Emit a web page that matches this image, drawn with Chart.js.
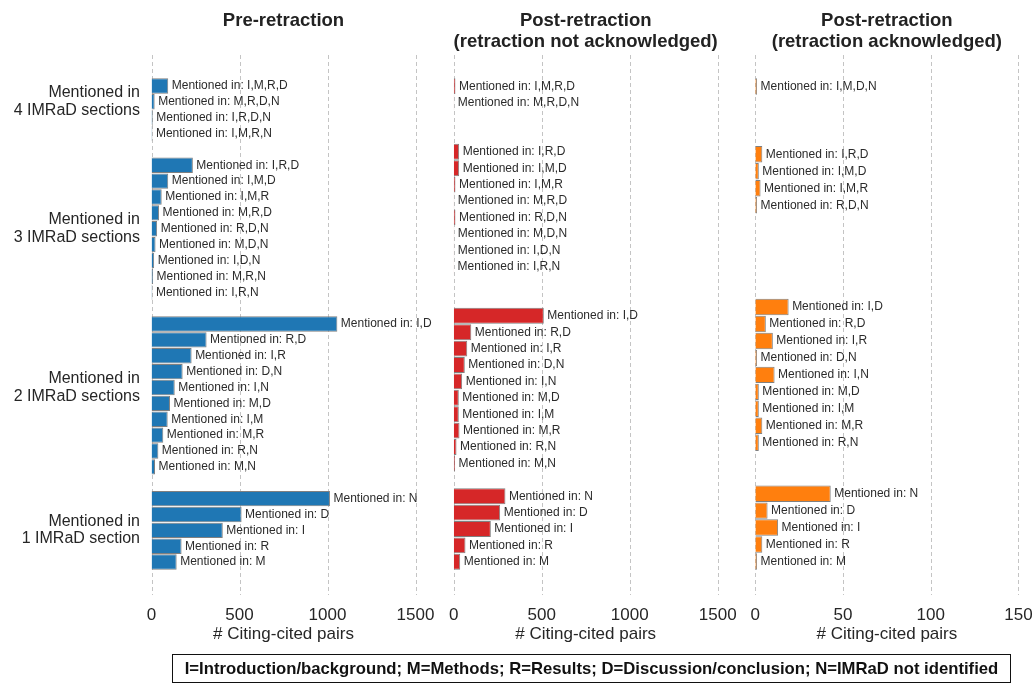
<!DOCTYPE html>
<html><head><meta charset="utf-8">
<script src="https://cdn.jsdelivr.net/npm/chart.js@4.4.0/dist/chart.umd.min.js"></script>
<style>
html,body{margin:0;padding:0;background:#fff;}
body{width:1032px;height:684px;position:relative;overflow:hidden;font-family:"Liberation Sans",Arial,sans-serif;}
canvas{position:absolute;top:0;}
#legend{position:absolute;left:172px;top:654px;width:837px;height:27px;border:1px solid #111;font-weight:bold;font-size:16.7px;line-height:27px;text-align:center;color:#111;white-space:nowrap;}
</style></head><body>
<canvas id="c1" width="450" height="684" style="left:0;width:450px;height:684px"></canvas>
<canvas id="c2" width="320" height="684" style="left:430px;width:320px;height:684px"></canvas>
<canvas id="c3" width="297" height="684" style="left:735px;width:297px;height:684px"></canvas>
<div id="legend">I=Introduction/background; M=Methods; R=Results; D=Discussion/conclusion; N=IMRaD not identified</div>
<script>
// ---- data ('' = empty spacer row between groups) ----
const preCategories = ['I,M,R,D','M,R,D,N','I,R,D,N','I,M,R,N','',
  'I,R,D','I,M,D','I,M,R','M,R,D','R,D,N','M,D,N','I,D,N','M,R,N','I,R,N','',
  'I,D','R,D','I,R','D,N','I,N','M,D','I,M','M,R','R,N','M,N','',
  'N','D','I','R','M'];
const preValues = [95,18,7,5,null,
  235,95,58,43,32,23,15,9,5,null,
  1056,313,228,177,132,105,92,67,39,20,null,
  1014,512,405,171,143];

const notAckCategories = ['I,M,R,D','M,R,D,N','','',
  'I,R,D','I,M,D','I,M,R','M,R,D','R,D,N','M,D,N','I,D,N','I,R,N','','',
  'I,D','R,D','I,R','D,N','I,N','M,D','I,M','M,R','R,N','M,N','',
  'N','D','I','R','M'];
const notAckValues = [10,3,null,null,
  31,31,10,3,10,3,3,2,null,null,
  512,100,77,63,48,29,29,33,16,8,null,
  294,264,211,67,37];

const ackCategories = ['I,M,D,N','','','',
  'I,R,D','I,M,D','I,M,R','R,D,N','','','','','',
  'I,D','R,D','I,R','D,N','I,N','M,D','I,M','M,R','R,N','','',
  'N','D','I','R','M'];
const ackValues = [1,null,null,null,
  4,2,3,1,null,null,null,null,null,
  19,6,10,1,11,2,2,4,2,null,null,
  43,7,13,4,1];

const groupTitles = [['Mentioned in','4 IMRaD sections'],['Mentioned in','3 IMRaD sections'],
  ['Mentioned in','2 IMRaD sections'],['Mentioned in','1 IMRaD section']];
const panelTitles = [['Pre-retraction'],['Post-retraction','(retraction not acknowledged)'],
  ['Post-retraction','(retraction acknowledged)']];
const axisTitle = '# Citing-cited pairs';
const labelPrefix = 'Mentioned in: ';

const FONT = '"Liberation Sans", Arial, sans-serif';
Chart.defaults.font.family = FONT;

const gridPlugin = {
  id: 'dashgrid',
  beforeDatasetsDraw(chart) {
    const {ctx, chartArea: a, scales: {x}} = chart;
    ctx.save();
    ctx.strokeStyle = '#c4c4c4'; ctx.lineWidth = 1; ctx.setLineDash([4, 3]);
    x.ticks.forEach(t => {
      const px = Math.round(x.getPixelForValue(t.value)) + 0.5;
      ctx.beginPath(); ctx.moveTo(px, a.top - 23); ctx.lineTo(px, a.bottom + 25); ctx.stroke();
    });
    ctx.restore();
  }
};

const barLabelPlugin = {
  id: 'barlabels',
  afterDatasetsDraw(chart) {
    const {ctx} = chart;
    const meta = chart.getDatasetMeta(0);
    const data = chart.data.datasets[0].data;
    const cats = chart.data.labels;
    ctx.save();
    ctx.font = '12px ' + FONT; ctx.fillStyle = '#2b2b2b'; ctx.textBaseline = 'middle'; ctx.textAlign = 'left';
    meta.data.forEach((el, i) => {
      if (data[i] == null) return;
      ctx.fillText(labelPrefix + cats[i], el.x + 3.5, el.y);
    });
    ctx.restore();
  }
};

const titlePlugin = {
  id: 'paneltitle',
  afterDraw(chart, args, opts) {
    const {ctx, chartArea: a} = chart;
    ctx.save();
    ctx.font = 'bold 18.5px ' + FONT; ctx.fillStyle = '#222'; ctx.textAlign = 'center'; ctx.textBaseline = 'middle';
    opts.lines.forEach((l, i) => ctx.fillText(l, (a.left + a.right) / 2, 21 + i * 21));
    ctx.restore();
  }
};

const groupLabelPlugin = {
  id: 'grouplabels',
  afterDraw(chart, args, opts) {
    if (!opts.enabled) return;
    const {ctx, scales: {y}} = chart;
    const cats = chart.data.labels;
    const runs = [];
    let start = -1;
    cats.forEach((c, i) => {
      if (c !== '' && start < 0) start = i;
      if ((c === '' || i === cats.length - 1) && start >= 0) {
        const end = c === '' ? i - 1 : i;
        runs.push([start, end]); start = -1;
      }
    });
    ctx.save();
    ctx.font = '16px ' + FONT; ctx.fillStyle = '#262626'; ctx.textAlign = 'right'; ctx.textBaseline = 'middle';
    runs.forEach((r, g) => {
      const anchor = r[0] + Math.floor((r[1] - r[0]) / 2);
      const py = y.getPixelForValue(anchor);
      const lines = groupTitles[g];
      lines.forEach((l, k) => ctx.fillText(l, 140, py + (k - (lines.length - 1) / 2) * 17.5));
    });
    ctx.restore();
  }
};

function makePanel(id, cats, vals, color, max, step, padL, padR, titleLines, groupLabels) {
  new Chart(document.getElementById(id), {
    type: 'bar',
    data: {labels: cats, datasets: [{data: vals, backgroundColor: color, borderColor: '#808080', borderWidth: 1,
      categoryPercentage: 1, barPercentage: 0.97}]},
    options: {
      indexAxis: 'y', responsive: false, animation: false, devicePixelRatio: 1,
      layout: {padding: {left: padL, right: padR, top: 78, bottom: 0}},
      plugins: {legend: {display: false}, tooltip: {enabled: false},
        paneltitle: {lines: titleLines}, grouplabels: {enabled: groupLabels}},
      scales: {
        y: {type: 'category', display: false, offset: true},
        x: {type: 'linear', min: 0, max: max,
          grid: {display: false}, border: {display: false},
          ticks: {stepSize: step, font: {size: 17}, color: '#262626', padding: 27, maxRotation: 0,
            callback: v => String(v)},
          title: {display: true, text: axisTitle, font: {size: 17}, color: '#262626', padding: {top: 0, bottom: 39.8}},
          afterFit(scale) { scale.height = 114; scale.paddingLeft = 0; scale.paddingRight = 0; }
        }
      }
    },
    plugins: [gridPlugin, barLabelPlugin, titlePlugin, groupLabelPlugin]
  });
}

makePanel('c1', preCategories, preValues, '#1f77b4', 1500, 500, 151.5, 34.5, panelTitles[0], true);
makePanel('c2', notAckCategories, notAckValues, '#d62728', 1500, 500, 23.7, 32.3, panelTitles[1], false);
makePanel('c3', ackCategories, ackValues, '#ff7f0e', 150, 50, 20.3, 13.6, panelTitles[2], false);
</script>
</body></html>
